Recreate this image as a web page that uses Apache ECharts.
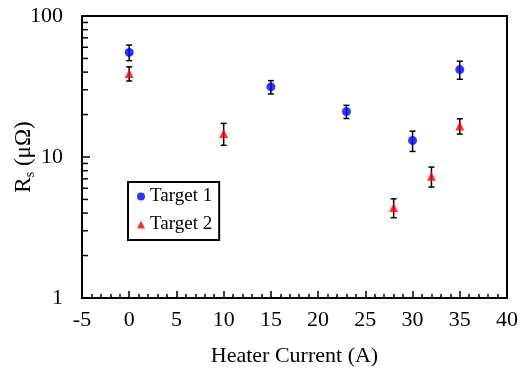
<!DOCTYPE html>
<html>
<head>
<meta charset="utf-8">
<script src="https://cdn.jsdelivr.net/npm/echarts@6/dist/echarts.min.js"></script>
<style>html,body{margin:0;padding:0;background:#fff}#c{width:521px;height:370px}</style>
</head>
<body>
<div id="c"></div>
<script>
var currents1 = [0, 15, 23, 30, 35];
var rs1 = [55.2, 31.4, 21.0, 13.1, 41.7];
var err1 = [7.0, 3.4, 2.25, 2.15, 6.1];
var currents2 = [0, 10, 28, 32, 35];
var rs2 = [39.1, 14.7, 4.38, 7.3, 16.6];
var err2 = [4.5, 2.6, 0.67, 1.18, 2.05];
var yMinorTickValues = [2,3,4,5,6,7,8,9,20,30,40,50,60,70,80,90];
var xTicks = {min: -5, max: 40, interval: 5};
var yRange = {min: 1, max: 100};

var FONT = 'Liberation Serif';
function pts(xs, ys) { return xs.map(function (x, i) { return [x, ys[i]]; }); }
function errs(xs, ys, es) { return xs.map(function (x, i) { return [x, ys[i] - es[i], ys[i] + es[i]]; }); }

function errRender(params, api) {
  var x = api.value(0), lo = api.value(1), hi = api.value(2);
  var p1 = api.coord([x, hi]), p2 = api.coord([x, lo]);
  var cap = 3;
  var st = {stroke: '#000', lineWidth: 1.5};
  return {type: 'group', children: [
    {type: 'line', shape: {x1: p1[0], y1: p1[1], x2: p2[0], y2: p2[1]}, style: st},
    {type: 'line', shape: {x1: p1[0] - cap, y1: p1[1], x2: p1[0] + cap, y2: p1[1]}, style: st},
    {type: 'line', shape: {x1: p2[0] - cap, y1: p2[1], x2: p2[0] + cap, y2: p2[1]}, style: st}
  ]};
}
function minorRender(params, api) {
  var p = api.coord([xTicks.min, api.value(0)]);
  return {type: 'line', shape: {x1: p[0], y1: p[1], x2: p[0] + 6, y2: p[1]}, style: {stroke: '#000', lineWidth: 1.5}};
}

var chart = echarts.init(document.getElementById('c'), null, {renderer: 'canvas'});
chart.setOption({
  animation: false,
  backgroundColor: '#fff',
  textStyle: {fontFamily: FONT},
  grid: {left: 82, right: 14, top: 16, bottom: 72, containLabel: false, outerBoundsMode: 'none', show: true, borderColor: '#000', borderWidth: 2, backgroundColor: 'transparent'},
  legend: {
    orient: 'vertical', left: 128, top: 182,
    data: [{name: 'Target 1', icon: 'circle'}, {name: 'Target 2', icon: 'triangle'}],
    itemWidth: 8, itemHeight: 8, itemGap: 9, padding: [5, 7, 6, 9],
    borderColor: '#000', borderWidth: 2,
    textStyle: {fontFamily: FONT, fontSize: 19, color: '#000'}
  },
  xAxis: {
    type: 'value', min: xTicks.min, max: xTicks.max, interval: xTicks.interval,
    name: 'Heater Current (A)', nameLocation: 'middle', nameGap: 47, nameMoveOverlap: false,
    nameTextStyle: {fontFamily: FONT, fontSize: 22, color: '#000'},
    axisLine: {show: true, onZero: false, lineStyle: {color: '#000', width: 2}},
    axisTick: {show: true, inside: true, length: 7, lineStyle: {color: '#000', width: 1.5}},
    minorTick: {show: true, splitNumber: 5, length: 4, lineStyle: {color: '#000', width: 1.5}},
    axisLabel: {fontFamily: FONT, fontSize: 22, color: '#000', margin: 11},
    splitLine: {show: false}
  },
  yAxis: {
    type: 'log', logBase: 10, min: yRange.min, max: yRange.max,
    name: '{a|R}{b|s}{a| (μΩ)}', nameLocation: 'middle', nameGap: 45, nameRotate: 90, nameMoveOverlap: false,
    nameTextStyle: {fontFamily: FONT, color: '#000', rich: {
      a: {fontFamily: FONT, fontSize: 23, color: '#000', lineHeight: 27},
      b: {fontFamily: FONT, fontSize: 14, color: '#000', lineHeight: 14, verticalAlign: 'bottom'}
    }},
    axisLine: {show: true, onZero: false, lineStyle: {color: '#000', width: 2}},
    axisTick: {show: true, inside: true, length: 8, lineStyle: {color: '#000', width: 1.5}},
    minorTick: {show: false},
    axisLabel: {fontFamily: FONT, fontSize: 22, color: '#000', margin: 19},
    splitLine: {show: false}
  },
  series: [
    {type: 'custom', name: 'ymintick', silent: true, renderItem: minorRender, data: yMinorTickValues.map(function (v) { return [v]; }), encode: {y: 0}, clip: false, z: 1},
    {type: 'custom', name: 'err1', silent: true, renderItem: errRender, data: errs(currents1, rs1, err1), encode: {x: 0, y: [1, 2]}, z: 2},
    {type: 'custom', name: 'err2', silent: true, renderItem: errRender, data: errs(currents2, rs2, err2), encode: {x: 0, y: [1, 2]}, z: 2},
    {type: 'scatter', name: 'Target 1', symbol: 'circle', symbolSize: 9, itemStyle: {color: '#0000ff'}, data: pts(currents1, rs1), z: 3},
    {type: 'scatter', name: 'Target 2', symbol: 'triangle', symbolSize: 9, itemStyle: {color: '#ff0000'}, data: pts(currents2, rs2), z: 3}
  ]
});
</script>
</body>
</html>
